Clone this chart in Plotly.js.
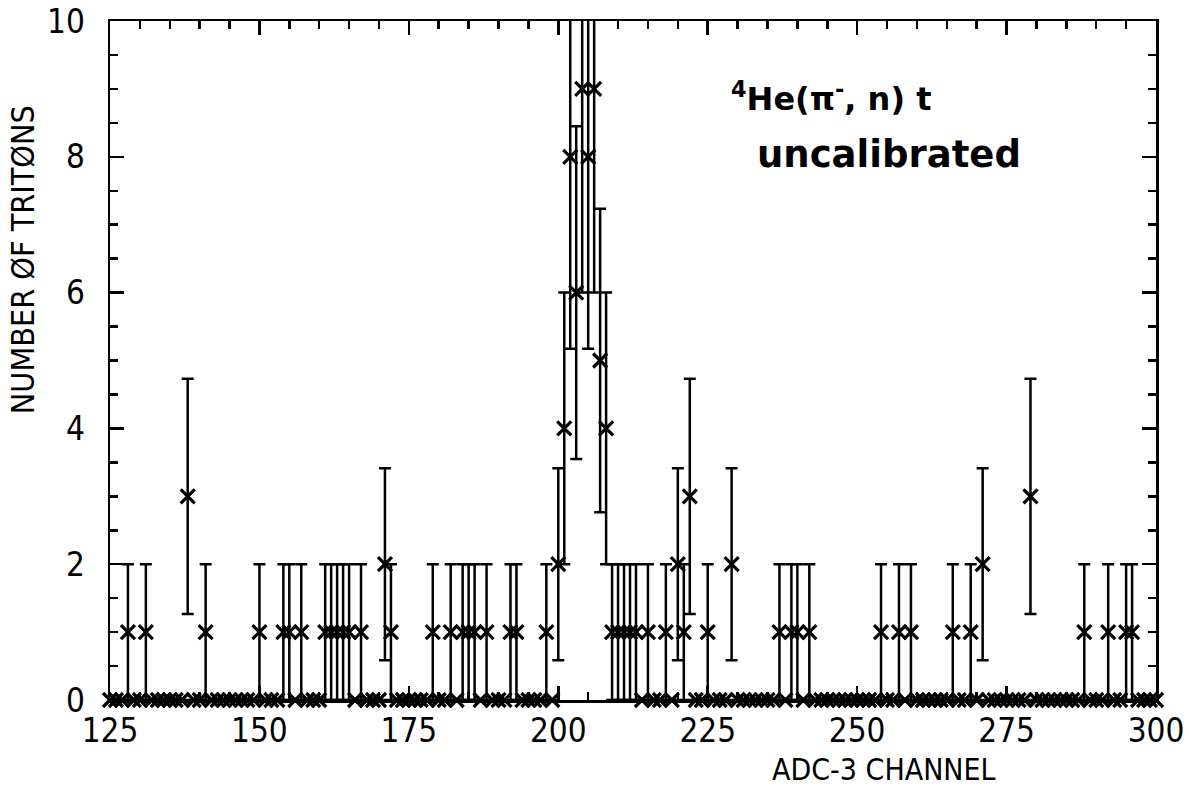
<!DOCTYPE html>
<html>
<head>
<meta charset="utf-8">
<script src="https://cdn.plot.ly/plotly-3.0.1.min.js"></script>
<style>html,body{margin:0;padding:0;background:#fff;}#chart{width:1189px;height:789px;}</style>
</head>
<body>
<div id="chart"></div>
<script>
// ADC-3 channels 125..300
const channels = [
125,126,127,128,129,130,131,132,133,134,
135,136,137,138,139,140,141,142,143,144,
145,146,147,148,149,150,151,152,153,154,
155,156,157,158,159,160,161,162,163,164,
165,166,167,168,169,170,171,172,173,174,
175,176,177,178,179,180,181,182,183,184,
185,186,187,188,189,190,191,192,193,194,
195,196,197,198,199,200,201,202,203,204,
205,206,207,208,209,210,211,212,213,214,
215,216,217,218,219,220,221,222,223,224,
225,226,227,228,229,230,231,232,233,234,
235,236,237,238,239,240,241,242,243,244,
245,246,247,248,249,250,251,252,253,254,
255,256,257,258,259,260,261,262,263,264,
265,266,267,268,269,270,271,272,273,274,
275,276,277,278,279,280,281,282,283,284,
285,286,287,288,289,290,291,292,293,294,
295,296,297,298,299,300];
// number of tritons per channel
const counts = [
0,0,0,1,0,0,1,0,0,0,
0,0,0,3,0,0,1,0,0,0,
0,0,0,0,0,1,0,0,0,1,
1,0,1,0,0,0,1,1,1,1,
1,0,1,0,0,0,2,1,0,0,
0,0,0,0,1,0,0,1,0,1,
1,1,0,1,0,0,0,1,1,0,
0,0,0,1,0,2,4,8,6,9,
8,9,5,4,1,1,1,1,1,0,
1,0,0,1,0,2,1,3,0,0,
1,0,0,0,2,0,0,0,0,0,
0,0,1,0,1,1,0,1,0,0,
0,0,0,0,0,0,0,0,0,1,
0,0,1,0,1,0,0,0,0,0,
0,1,0,0,1,0,2,0,0,0,
0,0,0,0,3,0,0,0,0,0,
0,0,0,1,0,0,0,1,0,0,
1,1,0,0,0,0];
const xTicks = [125,150,175,200,225,250,275,300];
const yTicks = [0,2,4,6,8,10];

const errors = counts.map(c => Math.sqrt(c));
const FONT = "'Liberation Sans Narrow', 'DejaVu Sans Condensed', 'Arial Narrow', sans-serif";

const trace = {
  x: channels, y: counts, type: 'scatter', mode: 'markers',
  cliponaxis: false,
  marker: {symbol: 'x-thin', size: 14, color: '#000', line: {color: '#000', width: 3.2}},
  error_y: {type: 'data', array: errors, visible: true, color: '#000', thickness: 2.5, width: 6},
  hoverinfo: 'x+y'
};

const axisCommon = {
  showgrid: false, zeroline: false, showline: true, linecolor: '#000', linewidth: 2.5,
  mirror: 'ticks', ticks: 'inside', tickcolor: '#000', tickwidth: 2.5, ticklen: 14,
  tickfont: {family: FONT, size: 33, color: '#000'}
};

const layout = {
  width: 1189, height: 789,
  margin: {l: 110, r: 33, t: 21, b: 89},
  paper_bgcolor: '#fff', plot_bgcolor: '#fff',
  showlegend: false,
  xaxis: Object.assign({}, axisCommon, {
    range: [125, 300], tickmode: 'array', tickvals: xTicks, ticktext: xTicks.map(String),
    ticklabelstandoff: 0,
    minor: {dtick: 5, tick0: 125, ticks: 'inside', ticklen: 8, tickwidth: 2.5, tickcolor: '#000'}
  }),
  yaxis: Object.assign({}, axisCommon, {
    range: [0, 10], tickmode: 'array', tickvals: yTicks, ticktext: yTicks.map(String),
    ticklabelstandoff: 16,
    minor: {dtick: 0.5, tick0: 0, ticks: 'inside', ticklen: 8, tickwidth: 2.5, tickcolor: '#000'}
  }),
  annotations: [
    {xref: 'paper', yref: 'paper', x: -0.083, y: 0.648, xanchor: 'center', yanchor: 'middle',
     textangle: -90, showarrow: false, text: 'NUMBER ØF TRITØNS',
     font: {family: FONT, size: 32, color: '#000'}},
    {xref: 'paper', yref: 'paper', x: 0.74, y: -0.103, xanchor: 'center', yanchor: 'middle',
     showarrow: false, text: 'ADC-3 CHANNEL',
     font: {family: FONT, size: 30, color: '#000'}},
    {xref: 'paper', yref: 'paper', x: 0.592, y: 0.888, xanchor: 'left', yanchor: 'middle',
     showarrow: false, text: '<sup>4</sup>He(π<sup>-</sup>, n) t',
     font: {family: "'DejaVu Sans', sans-serif", size: 32, weight: 'bold', color: '#000'}},
    {xref: 'paper', yref: 'paper', x: 0.617, y: 0.803, xanchor: 'left', yanchor: 'middle',
     showarrow: false, text: 'uncalibrated',
     font: {family: "'DejaVu Sans', sans-serif", size: 37, weight: 'bold', color: '#000'}}
  ]
};

Plotly.newPlot('chart', [trace], layout, {displayModeBar: false, staticPlot: true});
</script>
</body>
</html>
